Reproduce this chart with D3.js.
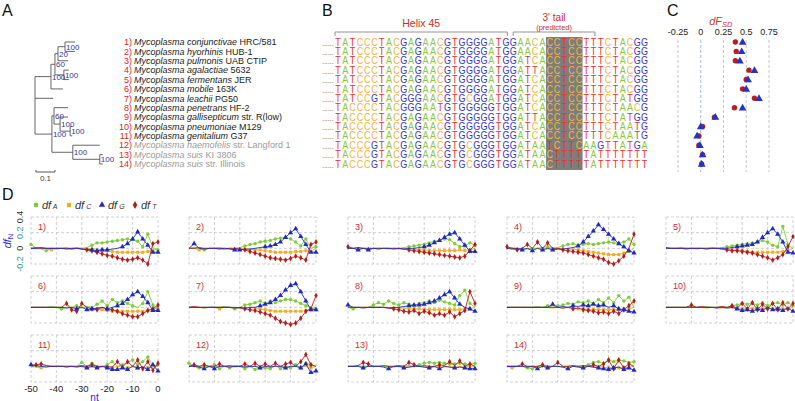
<!DOCTYPE html>
<html lang="en">
<head>
<meta charset="UTF-8">
<title>mycoplasma 3' tail</title>
<script src="https://d3js.org/d3.v7.min.js"></script>
<style>
  body{margin:0;background:#fff;}
  svg{font-family:"Liberation Sans",Arial,sans-serif;}
</style>
</head>
<body>
<svg id="fig" width="795" height="401"></svg>
<script>
// ---------------- data ----------------
const species = ["Mycoplasma conjunctivae","Mycoplasma hyorhinis","Mycoplasma pulmonis","Mycoplasma agalactiae",
  "Mycoplasma fermentans","Mycoplasma mobile","Mycoplasma leachii","Mycoplasma penetrans","Mycoplasma gallisepticum",
  "Mycoplasma pneumoniae","Mycoplasma genitalium","Mycoplasma haemofelis","Mycoplasma suis","Mycoplasma suis"];
const strains = ["HRC/581","HUB-1","UAB CTIP","5632","JER","163K","PG50","HF-2","str. R(low)","M129","G37",
  "str. Langford 1","KI 3806","str. Illinois"];
const predicted = [false,false,false,false,false,false,false,false,false,false,false,true,true,true];

// tree: bl = branch length (subst./site), boot = bootstrap, leaf = row number
const tree = {bl:0, c:[
  {bl:.084, boot:100, c:[
    {bl:.021, boot:60, c:[
      {bl:.016, boot:20, c:[
        {bl:.037, boot:100, c:[{bl:.053, leaf:1},{bl:.053, leaf:2}]},
        {bl:.053, leaf:3}]},
      {bl:.047, boot:100, c:[{bl:.026, leaf:4},{bl:.026, leaf:5}]}]},
    {bl:.063, leaf:6}]},
  {bl:.095, leaf:7},
  {bl:.089, boot:100, c:[
    {bl:.011, boot:60, c:[
      {bl:.074, leaf:8},
      {bl:.032, boot:100, c:[
        {bl:.042, leaf:9},
        {bl:.053, boot:100, c:[{bl:.011, leaf:10},{bl:.011, leaf:11}]}]}]},
    {bl:.11, boot:100, c:[
      {bl:.142, leaf:12},
      {bl:.142, boot:100, c:[{bl:.016, leaf:13},{bl:.016, leaf:14}]}]}]}
]};

const seqs = [
  "TATCCCTACGAGAACGTGGGGATGGAACACCTCCTTTCTACGG",
  "TATCCCTACGAGAACGTGGGGATGGAACACCTCCTTTCTACGG",
  "TATCCCTACGAGAACGTGGGGATGGATCACCTCCTTTCTACGG",
  "TATCCCTACGAGAACGTGGGGATGGATTACCTCCTTTCTACGG",
  "TATCCCTACGAGAACGTGGGGATGGATCACCTCCTTTCTACGG",
  "TATCCCTACGAGAACGTGGGGATGGATCACCTCCTTTCTACGG",
  "TATCCGTACGGGAACGTGCGGATGGATCACCTCCTTTCTATGG",
  "TACCCCTACGGGAATGTGGGGGTGGATCACCTCCTTTCTAACG",
  "TACCCCTACGAGAACGTGGGGGTGGATTACCTCCTTTCTATGG",
  "TACCCCTACGAGAACGTGGGGGTGGATCACCTCCTTTCTAATG",
  "TACCCCTACGAGAACGTGGGGGTGGATCACCTCCTTTCAAATG",
  "TACCCGTACGAGAACGTGCGGGTGGATAATCTTCAAGTTATGA",
  "TACCCGTACGAGAACGTGCGGGTGGATAACTTTTTATTTTTTT",
  "TACCCGTACGAGAACGTGCGGGTGGATAACTTTTTATTTTTTT"];
const tailBox = [29, 33];            // shaded columns
const brackets = [{label:"Helix 45", from:-0.4, to:23.2}, {label:"3' tail", sub:"(predicted)", from:24, to:35.2}];

// panel C
const dfsdCircle = [0.38,0.39,0.38,0.53,0.50,0.46,0.59,0.37,0.15,0.02,-0.02,-0.02,0.02,0.01];
const dfsdTriangle = [0.46,0.45,0.43,0.59,0.52,0.50,0.64,0.46,0.16,0.00,-0.04,-0.01,0.02,0.01];
const cTicks = [-0.25, 0, 0.25, 0.5, 0.75];

// panel D (values x100), positions -50..0 nt
const nt = [-50,-48,-46,-44,-42,-40,-38,-36,-34,-32,-30,-28,-26,-24,-22,-20,-18,-16,-14,-12,-10,-8,-6,-4,-2,0];
const dfA = [
  [5,0,-1,-3,0,-1,0,1,0,1,0,1,4,7,7,8,9,10,11,12,11,9,2,18,1,-2],
  [0,1,0,-2,0,0,1,0,0,0,1,3,5,6,8,9,10,12,13,14,12,8,3,12,0,2],
  [0,0,1,0,0,0,0,0,-1,0,0,1,2,3,4,5,7,9,10,12,11,6,2,3,7,4],
  [0,1,0,0,-1,0,0,1,2,0,1,3,5,6,4,5,6,5,6,7,8,7,6,8,12,5],
  [0,0,0,1,0,0,0,0,0,1,0,1,2,3,4,5,6,7,8,10,8,4,2,28,5,0],
  [0,0,0,0,1,0,-2,0,0,2,0,1,0,4,8,2,10,6,8,5,2,0,5,20,3,-2],
  [0,0,0,-1,0,0,0,1,0,-2,0,3,4,6,8,5,8,6,8,10,10,8,5,2,0,-2],
  [0,-2,0,0,0,3,6,4,8,5,3,6,4,2,5,6,8,6,9,7,5,3,15,22,5,0],
  [0,0,0,0,0,0,1,0,2,0,2,3,5,4,7,6,8,5,10,6,12,6,15,8,13,0],
  [0,0,0,0,0,2,0,0,1,0,0,1,0,2,3,5,4,5,3,6,2,5,6,3,6,2],
  [-1,0,0,1,0,0,0,0,0,0,5,0,4,0,-1,2,6,0,2,5,8,2,6,12,0,2],
  [4,0,-2,0,0,2,-3,0,-2,1,0,-3,0,-4,-2,-2,-3,1,-3,0,-2,2,-2,4,2,0],
  [0,0,0,0,0,0,0,0,0,-1,0,0,1,0,2,4,5,4,5,4,3,3,4,3,2,4],
  [0,0,0,0,-2,-3,0,0,0,0,0,0,0,0,0,0,2,5,6,4,8,6,8,7,5,6]];
const dfC = [
  [0,-1,0,0,-2,0,0,0,-1,0,0,-1,0,-1,-2,-3,-4,-5,-5,-5,-5,-5,-5,-4,-3,0],
  [0,0,-2,0,0,0,0,0,0,-1,0,0,-1,-2,-2,-3,-4,-5,-5,-5,-5,-4,-4,-3,-4,0],
  [0,0,0,0,-1,0,0,0,0,0,-1,0,-1,-1,-2,-2,-3,-3,-3,-3,-3,-3,-2,-3,-2,0],
  [0,0,-1,0,0,0,0,0,-1,0,0,0,-1,-1,-2,-3,-4,-5,-6,-7,-8,-8,-8,-6,-4,0],
  [0,0,0,0,0,0,-1,0,0,0,0,-1,-1,-2,-2,-3,-4,-5,-5,-5,-5,-5,-5,-4,-3,0],
  [0,0,0,0,0,0,0,0,0,-1,0,0,-1,-2,-3,-4,-5,-5,-5,-5,-5,-5,-5,-4,-3,0],
  [0,0,0,-1,0,0,-2,0,0,-1,0,-1,0,-1,-2,-3,-4,-5,-5,-5,-5,-5,-5,-4,-2,0],
  [0,0,0,0,0,0,0,0,0,0,-1,-1,-2,-2,-2,-3,-3,-3,-3,-3,-3,-3,-3,-2,-2,0],
  [0,0,0,0,0,0,0,0,0,-1,0,-1,0,-1,-2,-2,-3,-3,-3,-3,-3,-3,-3,-3,-2,0],
  [0,0,0,0,0,0,0,0,-1,0,0,-1,0,-1,0,-2,-1,-2,-1,-2,-1,-2,-2,-1,-2,0],
  [0,-1,-2,0,0,0,0,0,0,0,0,0,-1,0,0,-1,-2,0,-1,-2,0,-2,-1,-2,-1,0],
  [0,0,0,0,-1,0,0,0,0,-1,0,0,-1,0,0,-1,0,0,-1,0,-1,0,-1,0,-2,0],
  [0,0,0,0,0,0,0,0,0,0,0,0,-1,0,0,-1,0,-1,0,-1,0,-1,0,-1,0,-1],
  [0,-2,0,0,0,0,0,0,-1,0,0,-1,0,0,0,-1,0,-1,0,-1,-2,-1,-2,-2,-1,0]];
const dfG = [
  [0,0,1,0,0,0,0,-1,0,0,-1,-1,-2,-3,-2,-2,-1,0,2,6,12,21,12,4,-5,-5],
  [0,6,0,-1,0,0,-1,0,-1,-2,-2,-1,-1,0,1,2,3,5,8,14,20,25,15,5,-5,-5],
  [0,0,-2,0,-2,0,-1,0,0,-1,0,-1,0,0,1,2,4,7,10,14,18,20,12,4,-4,-4],
  [0,-1,0,-2,0,-3,0,-2,0,-2,-1,-1,0,1,3,8,15,22,30,24,18,12,6,2,-3,-6],
  [0,0,0,0,0,0,0,0,-1,0,0,0,0,1,2,3,4,5,8,14,20,25,18,8,-5,-6],
  [0,0,0,0,0,0,0,-1,0,-2,0,-3,-2,-1,0,-2,0,2,5,10,16,20,14,6,-4,-4],
  [0,0,0,0,0,0,0,0,0,-1,0,-1,0,0,2,4,6,10,15,22,28,30,20,8,-3,-3],
  [3,0,0,-1,0,0,0,0,-1,0,0,1,2,3,3,4,6,8,12,16,20,12,4,0,-2,-5],
  [0,0,0,0,0,0,0,0,0,4,0,1,0,2,1,3,2,4,2,3,0,2,-2,-3,-5,-6],
  [0,0,0,0,0,0,0,0,0,0,-1,0,-1,0,-2,-4,-3,-5,-2,-4,0,-3,-2,-4,-1,-5],
  [2,1,0,-1,0,0,0,-1,0,-1,0,-2,0,-2,0,-2,-4,-4,-2,-4,0,-2,-1,-4,2,-6],
  [0,0,-1,-3,0,-3,0,0,-1,0,0,-1,0,0,-2,0,-1,0,0,-2,0,0,-2,3,-8,-6],
  [0,0,0,-2,0,0,0,-1,-3,0,0,-2,-1,0,0,-1,-2,0,-3,0,-1,-2,-1,-2,-3,-3],
  [0,0,0,0,-1,0,-3,0,-2,0,0,-1,-3,0,-1,-2,0,-1,-2,-3,-4,-2,-1,-4,-2,-5]];
const dfT = [
  [0,1,0,0,0,0,0,0,-1,0,-1,-2,-3,-5,-7,-9,-10,-12,-14,-15,-14,-12,-15,-20,6,8],
  [0,0,1,0,0,0,0,-1,0,0,-1,-2,-4,-6,-8,-10,-12,-13,-14,-15,-13,-10,-12,-15,5,8],
  [2,0,1,0,0,0,0,0,0,0,0,-1,-2,-3,-4,-5,-6,-7,-8,-9,-10,-11,-12,-10,-3,5],
  [2,0,-2,0,5,0,8,0,7,0,0,-2,-3,-4,-5,-6,-8,-10,-12,-14,-18,-20,-16,-10,0,18],
  [1,0,0,0,-1,0,0,0,0,0,0,-1,-2,-3,-3,-4,-5,-6,-8,-10,-12,-15,-12,-8,2,15],
  [0,0,0,0,0,0,0,5,-3,-5,5,0,-2,-3,0,-2,-3,-5,-8,-10,-12,-12,-8,-4,-2,3],
  [0,1,0,0,0,0,0,0,0,0,-1,-2,-3,-4,-6,-8,-10,-14,-18,-20,-22,-20,-14,-5,-2,15],
  [0,0,0,0,0,0,0,0,-1,-2,-3,-5,-6,-4,-8,-5,-7,-10,-8,-10,-6,-12,-8,-4,20,5],
  [0,0,0,0,0,0,0,0,0,0,0,-1,0,-2,-1,-3,-4,-5,-7,-6,-8,-5,-8,-3,2,8],
  [0,0,0,0,0,3,0,1,0,0,0,1,0,2,-1,5,-2,6,-3,4,-2,5,-3,6,-2,5],
  [1,2,3,1,0,0,0,0,0,0,1,0,2,0,0,0,-1,6,-1,6,0,8,-3,6,-5,4],
  [0,2,0,2,0,0,3,0,1,0,0,3,0,4,0,3,0,4,0,3,5,0,6,15,2,0],
  [0,0,1,5,3,0,0,1,0,0,1,0,5,2,0,1,0,0,2,1,6,1,7,0,3,0],
  [0,0,0,3,0,0,0,2,0,0,5,0,0,1,0,1,0,2,0,3,8,-3,8,-2,3,0]];
const dYTicks = [0.4, 0.2, 0, -0.2];
const dXTicks = [-50, -40, -30, -20, -10, 0];

// ---------------- drawing ----------------
const svg = d3.select("#fig");
const red = "#d22a2a", treeBlue = "#35359a";
const baseColor = {A:"#8cc63f", C:"#f2b43c", G:"#3434bd", T:"#e5322b"};

// panel letters
[["A",2,16],["B",322,16],["C",667,16],["D",2,200]].forEach(([t,x,y]) =>
  svg.append("text").attr("x",x).attr("y",y).attr("font-size",16).attr("fill","#111").text(t));

// shared row scale for A, B, C
const rowY = d3.scaleLinear().domain([1,14]).range([42,164]);

// ---- A: tree ----
const gA = svg.append("g");
const root = d3.hierarchy(tree, d => d.c);
root.eachBefore(n => n.dist = n.parent ? n.parent.dist + n.data.bl : 0);
root.eachAfter(n => n.y0 = n.children ? (n.children[0].y0 + n.children[n.children.length-1].y0)/2 : rowY(n.data.leaf));
const bx = d3.scaleLinear().domain([0,0.1]).range([35,54]);
const stroke = "#555";
root.descendants().forEach(n => {
  if (n.parent) gA.append("line").attr("x1",bx(n.parent.dist)).attr("x2",bx(n.dist))
      .attr("y1",n.y0).attr("y2",n.y0).attr("stroke",stroke).attr("stroke-width",0.9);
  if (n.children) gA.append("line").attr("x1",bx(n.dist)).attr("x2",bx(n.dist))
      .attr("y1",n.children[0].y0).attr("y2",n.children[n.children.length-1].y0)
      .attr("stroke",stroke).attr("stroke-width",0.9);
});
root.descendants().filter(n => n.data.boot !== undefined).forEach(n =>
  gA.append("text").attr("x",bx(n.dist)+1).attr("y",n.y0+3).attr("font-size",8)
    .attr("fill",treeBlue).text(n.data.boot));
// scale bar
gA.append("line").attr("x1",bx(0.005)).attr("x2",bx(0.105)).attr("y1",172).attr("y2",172).attr("stroke",stroke);
[0.005,0.105].forEach(v => gA.append("line").attr("x1",bx(v)).attr("x2",bx(v)).attr("y1",170).attr("y2",172).attr("stroke",stroke));
gA.append("text").attr("x",bx(0.055)).attr("y",180.5).attr("text-anchor","middle").attr("font-size",8).attr("fill","#444").text("0.1");

// names
species.forEach((s,i) => {
  const y = rowY(i+1) + 3.2;
  gA.append("text").attr("x",132).attr("y",y).attr("text-anchor","end").attr("font-size",9)
    .attr("fill",red).text((i+1)+")");
  const t = gA.append("text").attr("x",134).attr("y",y).attr("font-size",9)
    .attr("fill", predicted[i] ? "#9a9a9a" : "#1a1a1a");
  t.append("tspan").attr("font-style","italic").text(s);
  t.append("tspan").text(" " + strains[i]);
});

// ---- B: alignment ----
const gB = svg.append("g");
const colX = d3.scaleLinear().domain([0,1]).range([338,345.3]);
gB.append("rect").attr("x",colX(tailBox[0]-0.5)).attr("width",colX(tailBox[1]+0.5)-colX(tailBox[0]-0.5))
  .attr("y",37).attr("height",133).attr("fill","#7d7d7d");
seqs.forEach((s,i) => {
  const y = rowY(i+1) + 3.6;
  gB.append("text").attr("x",colX(-0.6)).attr("y",y).attr("text-anchor","end").attr("font-size",7)
    .attr("fill","#555").text("......");
  // glyphs narrowed a little so neighbouring letters just touch, as in the source
  gB.selectAll(null).data(s.split("")).join("text")
    .attr("transform",(d,j) => `translate(${colX(j)},${y}) scale(0.9,1)`)
    .attr("text-anchor","middle").attr("font-size",10)
    .attr("fill",d => baseColor[d]).text(d => d);
});
brackets.forEach(b => {
  const x1 = colX(b.from), x2 = colX(b.to);
  gB.append("path").attr("d",`M${x1},36V32H${x2}V36`).attr("fill","none").attr("stroke","#888").attr("stroke-width",0.9);
  const cx = (x1+x2)/2;
  if (b.sub) {
    gB.append("text").attr("x",cx).attr("y",21).attr("text-anchor","middle").attr("font-size",10).attr("fill",red).text(b.label);
    gB.append("text").attr("x",cx).attr("y",29.5).attr("text-anchor","middle").attr("font-size",7.5).attr("fill",red).text(b.sub);
  } else {
    gB.append("text").attr("x",cx).attr("y",27).attr("text-anchor","middle").attr("font-size",10.5).attr("fill",red).text(b.label);
  }
});

// ---- C: dF_SD ----
const gC = svg.append("g");
const cx = d3.scaleLinear().domain([-0.25,0.75]).range([678,769]);
cTicks.forEach(v => {
  gC.append("line").attr("x1",cx(v)).attr("x2",cx(v)).attr("y1",40).attr("y2",172)
    .attr("stroke", v === 0 ? "#7fb3d0" : "#b8b8c0").attr("stroke-dasharray","3,2").attr("stroke-width",0.8);
  gC.append("text").attr("x",cx(v)).attr("y",35).attr("text-anchor","middle").attr("font-size",9).attr("fill","#222").text(v);
});
const ct = gC.append("text").attr("x",cx(0.22)).attr("y",25).attr("text-anchor","middle").attr("fill","#c23a36")
  .attr("font-size",11).attr("font-style","italic");
ct.append("tspan").text("dF");
ct.append("tspan").attr("font-size",7.5).attr("dy",2).text("SD");
gC.selectAll(null).data(dfsdCircle).join("circle")
  .attr("cx",d => cx(d)).attr("cy",(d,i) => rowY(i+1)).attr("r",2.7).attr("fill","#b3201f");
gC.selectAll(null).data(dfsdTriangle).join("path")
  .attr("transform",(d,i) => `translate(${cx(d)},${rowY(i+1)+0.5})`)
  .attr("d", d3.symbol(d3.symbolTriangle, 26)).attr("fill","#2433c4");

// ---- D: small multiples ----
const gD = svg.append("g");
const series = [
  {key:"C", data:dfC, color:"#f3ac22", sym:d3.symbolSquare, size:9},
  {key:"A", data:dfA, color:"#7fcc38", sym:d3.symbolCircle, size:9},
  {key:"T", data:dfT, color:"#b41c1c", sym:d3.symbolDiamond, size:10},
  {key:"G", data:dfG, color:"#1f2ac2", sym:d3.symbolTriangle, size:12}];
const colLeft = [31,189,348,507,666], rowTop = [217,276,335];
const pw = 127, ph = 47;
const grid = "#c4c4c4";

for (let p = 0; p < 14; p++) {
  const x0 = colLeft[p % 5], y0 = rowTop[Math.floor(p / 5)];
  const x = d3.scaleLinear().domain([-50,0]).range([x0, x0+pw]);
  const y = d3.scaleLinear().domain([-0.2,0.4]).range([y0+ph, y0]);
  const g = gD.append("g");
  g.append("rect").attr("x",x0).attr("y",y0).attr("width",pw).attr("height",ph)
    .attr("fill","none").attr("stroke",grid).attr("stroke-dasharray","3,2").attr("stroke-width",0.8);
  [-40,-30,-20,-10].forEach(v => g.append("line").attr("x1",x(v)).attr("x2",x(v)).attr("y1",y0).attr("y2",y0+ph)
    .attr("stroke",grid).attr("stroke-dasharray","3,2").attr("stroke-width",0.8));
  [0.2,0].forEach(v => g.append("line").attr("x1",x0).attr("x2",x0+pw).attr("y1",y(v)).attr("y2",y(v))
    .attr("stroke",grid).attr("stroke-dasharray","3,2").attr("stroke-width",0.8));
  g.append("text").attr("x",x0+7).attr("y",y0+13).attr("font-size",9).attr("fill",red).text((p+1)+")");
  series.forEach(s => {
    const vals = s.data[p];
    const line = d3.line().x((d,i) => x(nt[i])).y(d => y(d/100));
    g.append("path").attr("d",line(vals)).attr("fill","none").attr("stroke",s.color).attr("stroke-width",0.9);
    g.selectAll(null).data(vals.map((v,i) => [nt[i], v]).filter(d => Math.abs(d[1]) >= 2)).join("path")
      .attr("transform",d => `translate(${x(d[0])},${y(d[1]/100)})`)
      .attr("d", d3.symbol(s.sym, s.size)).attr("fill",s.color);
  });
  if (p === 0) {
    dYTicks.forEach(v => g.append("text")
      .attr("transform",`translate(${x0-8},${y(v)}) rotate(-90)`).attr("text-anchor","middle")
      .attr("font-size",9).attr("fill", (v === 0.2 || v === -0.2) ? "#2a9d8f" : "#333").text(v));
    const lab = g.append("text").attr("transform",`translate(${x0-20},${y0+24}) rotate(-90)`)
      .attr("text-anchor","middle").attr("fill","#2a2ad0").attr("font-size",11).attr("font-style","italic");
    lab.append("tspan").text("df");
    lab.append("tspan").attr("font-size",7.5).attr("dy",2).attr("font-style","normal").text("N");
  }
  if (p === 10) {
    dXTicks.forEach(v => g.append("text").attr("x",x(v)).attr("y",y0+ph+10).attr("text-anchor","middle")
      .attr("font-size",9.5).attr("fill","#222").text(v));
    g.append("text").attr("x",x(-25)).attr("y",y0+ph+18.5).attr("text-anchor","middle")
      .attr("font-size",10).attr("fill","#2a2ad0").text("nt");
  }
}

// legend
const leg = gD.append("g");
let lx = 36;
series.slice().sort((a,b) => "ACGT".indexOf(a.key) - "ACGT".indexOf(b.key)).forEach(s => {
  leg.append("path").attr("transform",`translate(${lx},205)`).attr("d",d3.symbol(s.sym, 18)).attr("fill",s.color);
  const t = leg.append("text").attr("x",lx+6).attr("y",209).attr("font-size",11).attr("font-style","italic").attr("fill","#333");
  t.append("tspan").text("df");
  t.append("tspan").attr("font-size",7).text(" " + s.key);
  lx += 33;
});
</script>
</body>
</html>
